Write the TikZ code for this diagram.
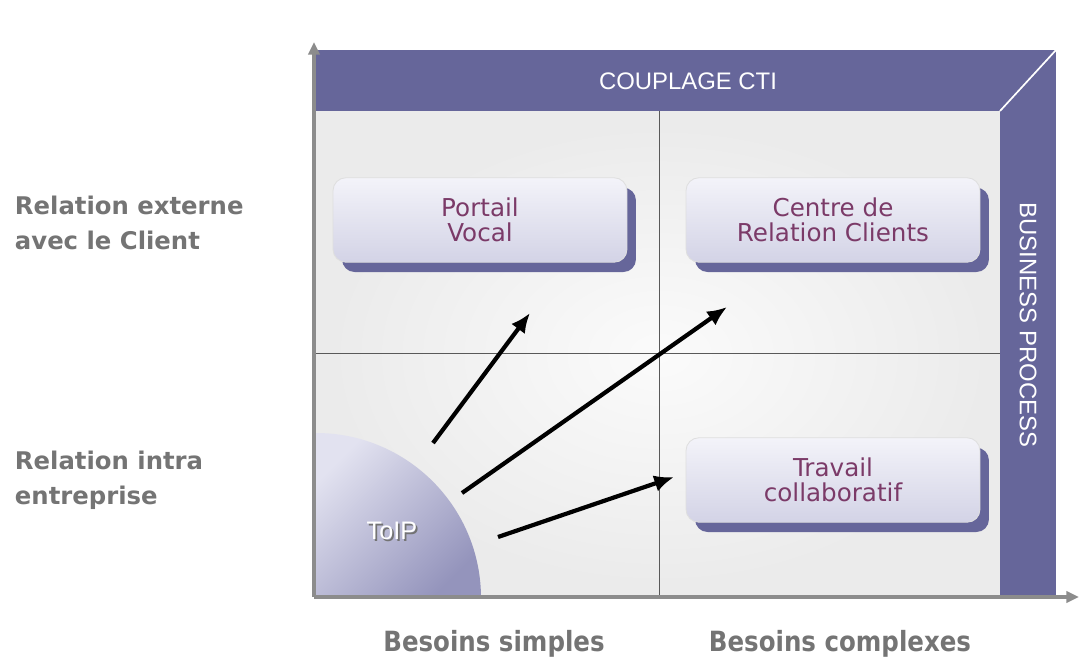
\documentclass[tikz,border=0pt]{standalone}
\usepackage{fontspec}
\setmainfont{DejaVu Sans}
\newfontfamily\bandfont{Liberation Sans}
\newfontfamily\besoinfont[FakeStretch=0.88]{DejaVu Sans}
\usetikzlibrary{arrows.meta,shadows,positioning}
\definecolor{bandpurple}{HTML}{66669A}
\definecolor{boxtext}{HTML}{7B3A68}
\definecolor{labelgray}{HTML}{747474}
\definecolor{axisgray}{HTML}{8C8C8C}
\definecolor{panelgray}{HTML}{EBEBEB}
\definecolor{boxtop}{HTML}{F3F3F9}
\definecolor{boxbottom}{HTML}{D3D3E6}
\definecolor{toiplight}{HTML}{E2E2F0}
\definecolor{toipdark}{HTML}{9494BC}

\tikzset{
  besoinbox/.style={rounded corners=9pt, draw=white!75!gray, line width=0.6pt,
    top color=boxtop, bottom color=boxbottom,
    minimum width=209pt, minimum height=60pt, align=center,
    text=boxtext, font=\fontsize{17.5}{17.7}\selectfont,
    drop shadow={shadow xshift=6.4pt, shadow yshift=-7pt, fill=bandpurple, opacity=1}},
  axelabel/.style={text=labelgray, align=left, font=\fontsize{17.3}{24.8}\selectfont\bfseries},
  besoinlabel/.style={text=labelgray, font=\besoinfont\fontsize{19.8}{22}\selectfont\bfseries},
  bandlabel/.style={text=white, font=\bandfont\fontsize{17}{20}\selectfont},
  axe/.style={axisgray, line width=2.2pt, -{Triangle[length=9pt,width=8pt]}},
  fleche/.style={black, line width=3pt, -{Latex[length=14pt,width=12pt]}}
}

\begin{document}
\begin{tikzpicture}[x=0.025cm, y=-0.025cm]
  \useasboundingbox (0,0) rectangle (1079,659);
  % panneau et bandes
  \fill[panelgray] (316,111) rectangle (1000,596);
  \shade[inner color=white!80!panelgray, outer color=panelgray] (330,125) rectangle (990,585);
  \fill[bandpurple] (316,50) rectangle (1056,111);
  \fill[bandpurple] (1000,111) rectangle (1056,596);
  \draw[white, line width=1.2pt] (1000,111) -- (1056,50);
  \draw[black!65, line width=0.6pt] (659,111) -- (659,596);
  \draw[black!65, line width=0.6pt] (316,353) -- (1000,353);
  \node[bandlabel] (cti) at (688,81) {COUPLAGE CTI};
  \node[bandlabel, rotate=-90] (process) at (1028,325) {BUSINESS PROCESS};
  % ToIP
  \shade[top color=toiplight, bottom color=toipdark, shading angle=45]
    (316,596) -- (316,433) arc[start angle=-90, end angle=0, radius=165] -- cycle;
  \node[text=black!55, font=\bandfont\fontsize{18}{20}\selectfont] at (393.7,532.7) {ToIP};
  \node[text=white, font=\bandfont\fontsize{18}{20}\selectfont] (toip) at (392,531) {ToIP};
  % axes
  \coordinate (origine) at (314,597);
  \coordinate (haut) at (314,42);
  \coordinate (droite) at (1079,597);
  \draw[axe] (origine) -- (haut);
  \draw[axe] (origine) -- (droite);
  % boites
  \node[besoinbox] (portail) at (480,220) {Portail\\Vocal};
  \node[besoinbox] (centre) at (833,220) {Centre de\\Relation Clients};
  \node[besoinbox] (travail) at (833,480) {Travail\\collaboratif};
  % fleches
  \coordinate (depart1) at (433,443);
  \coordinate (depart2) at (462,493);
  \coordinate (depart3) at (498,537);
  \coordinate (arrivee1) at (530,313);
  \coordinate (arrivee2) at (727,307);
  \coordinate (arrivee3) at (674,477);
  \draw[fleche] (depart1) -- (arrivee1);
  \draw[fleche] (depart2) -- (arrivee2);
  \draw[fleche] (depart3) -- (arrivee3);
  % libelles
  \node[axelabel, anchor=west] (externe) at (10,223) {Relation externe\\avec le Client};
  \node[axelabel, anchor=west] (intra) at (10,480) {Relation intra\\entreprise};
  \node[besoinlabel] (simples) at (494,644) {Besoins simples};
  \node[besoinlabel] (complexes) at (840,644) {Besoins complexes};
\end{tikzpicture}
\end{document}
